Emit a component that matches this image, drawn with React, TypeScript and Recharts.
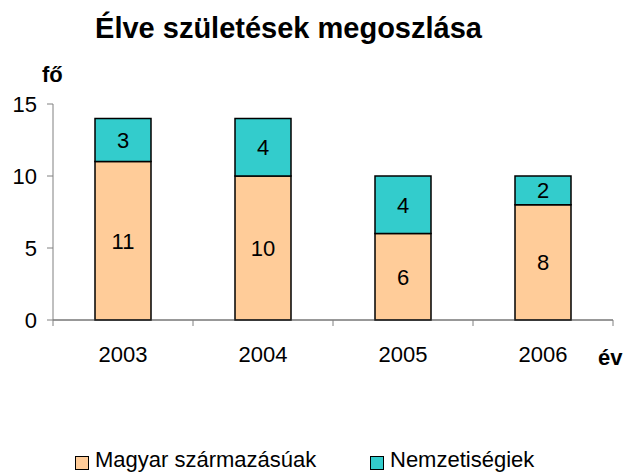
import { BarChart, Bar, XAxis, YAxis, LabelList } from 'recharts'

const years = ['2003', '2004', '2005', '2006']
const magyar = [11, 10, 6, 8]
const nemzetisegi = [3, 4, 4, 2]
const yTicks = [0, 5, 10, 15]

const data = years.map((year, i) => ({
  year,
  magyar: magyar[i],
  nemzetisegi: nemzetisegi[i],
}))

const font = 'Liberation Sans, Arial, sans-serif'

// tick label plus Excel-style tick mark at the right edge of each category band
function YearTick(props: any) {
  const { x, y, payload, index } = props
  const band = 140
  return (
    <g>
      {index === 0 && (
        <line x1={x - band / 2} y1={y - 8} x2={x - band / 2} y2={y - 2} stroke="#808080" />
      )}
      <line x1={x + band / 2} y1={y - 8} x2={x + band / 2} y2={y - 2} stroke="#808080" />
      <text x={x} y={y + 34} textAnchor="middle" fontSize={22} fill="#000" fontFamily={font}>
        {payload.value}
      </text>
    </g>
  )
}

function LegendItem({ color, label, left }: { color: string; label: string; left: number }) {
  return (
    <>
      <div
        style={{
          position: 'absolute',
          left,
          top: 456,
          width: 12,
          height: 12,
          background: color,
          border: '1px solid #000',
        }}
      />
      <div style={{ position: 'absolute', left: left + 20, top: 447, fontSize: 22, whiteSpace: 'nowrap' }}>
        {label}
      </div>
    </>
  )
}

export default function App() {
  return (
    <div
      style={{
        position: 'absolute',
        left: 0,
        top: 0,
        width: 627,
        height: 474,
        background: '#fff',
        fontFamily: font,
        overflow: 'hidden',
      }}
    >
      <div
        style={{
          position: 'absolute',
          left: 0,
          width: 577,
          top: 12,
          textAlign: 'center',
          fontSize: 29,
          fontWeight: 'bold',
          whiteSpace: 'nowrap',
        }}
      >
        Élve születések megoszlása
      </div>
      <div style={{ position: 'absolute', left: 42, top: 62, fontSize: 22, fontWeight: 'bold' }}>
        fő
      </div>
      <div style={{ position: 'absolute', left: 598, top: 345, fontSize: 22, fontWeight: 'bold' }}>
        év
      </div>

      <BarChart
        width={627}
        height={474}
        data={data}
        margin={{ top: 104, right: 14, left: 0, bottom: 124 }}
        barCategoryGap="30%"
      >
        <XAxis
          dataKey="year"
          height={30}
          axisLine={{ stroke: '#333' }}
          tickLine={false}
          tick={<YearTick />}
          interval={0}
        />
        <YAxis
          width={53}
          domain={[0, 15]}
          ticks={yTicks}
          axisLine={{ stroke: '#808080' }}
          tickLine={{ stroke: '#808080' }}
          tickSize={6}
          tickMargin={10}
          tick={{ fill: '#000', fontSize: 22, fontFamily: font }}
        />
        <Bar dataKey="magyar" stackId="a" fill="#FFCC99" stroke="#000" strokeWidth={1.5} isAnimationActive={false}>
          <LabelList dataKey="magyar" position="center" fill="#000" fontSize={22} fontFamily={font} />
        </Bar>
        <Bar dataKey="nemzetisegi" stackId="a" fill="#33CCCC" stroke="#000" strokeWidth={1.5} isAnimationActive={false}>
          <LabelList dataKey="nemzetisegi" position="center" fill="#000" fontSize={22} fontFamily={font} />
        </Bar>
      </BarChart>

      <LegendItem color="#FFCC99" label="Magyar származásúak" left={75} />
      <LegendItem color="#33CCCC" label="Nemzetiségiek" left={370} />
    </div>
  )
}
